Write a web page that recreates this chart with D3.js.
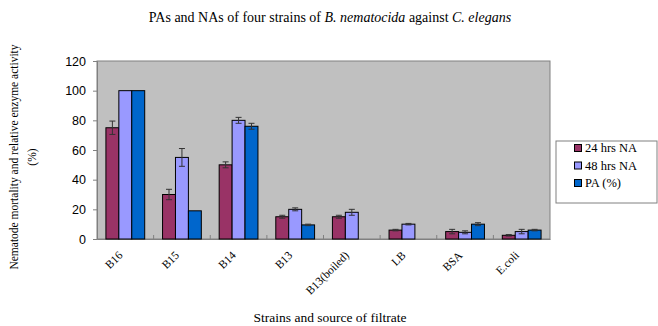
<!DOCTYPE html>
<html><head><meta charset="utf-8">
<script src="https://cdn.jsdelivr.net/npm/d3@7"></script>
<style>body{margin:0;background:#fff}svg{display:block}</style>
</head><body>
<svg id="c" width="658" height="326"></svg>
<script>
const categories = ["B16","B15","B14","B13","B13(boiled)","LB","BSA","E.coli"];
const seriesNames = ["24 hrs NA","48 hrs NA","PA (%)"];
const na24 = [75, 30, 50, 15, 15, 6, 5, 2.5];
const na48 = [100, 55, 80, 20, 18, 10, 4.5, 5];
const pa = [100, 19, 76, 9.5, 0, 0, 10, 6];
const err24 = [4.5, 3.5, 2, 1, 1, 0.5, 1.5, 0.5];
const err48 = [0, 6, 2, 1, 2, 0.5, 1, 1.5];
const errPA = [0, 0, 2, 0.5, 0, 0, 1, 0.5];
const yTicks = [0, 20, 40, 60, 80, 100, 120];
const colors = ["#993366", "#9999FF", "#0066CC"];

const svg = d3.select("#c");
const L = 97, R = 550, T = 61, B = 239;
const x = d3.scaleBand().domain(categories).range([L, R]).padding(0);
const x1 = d3.scaleBand().domain(seriesNames).range([0, x.bandwidth()]).paddingInner(0).paddingOuter(0.69);
const y = d3.scaleLinear().domain([0, 120]).range([B, T]);
const serif = "'Liberation Serif', 'Times New Roman', serif";

// title
const title = svg.append("text").attr("x", 330).attr("y", 22).attr("text-anchor", "middle")
  .style("font-family", serif).style("font-size", "14px").attr("fill", "#000");
title.append("tspan").text("PAs and NAs of four strains of ");
title.append("tspan").style("font-style", "italic").text("B. nematocida");
title.append("tspan").text(" against ");
title.append("tspan").style("font-style", "italic").text("C. elegans");

// plot area
svg.append("rect").attr("x", L).attr("y", T).attr("width", R - L).attr("height", B - T)
  .attr("fill", "#C0C0C0").attr("stroke", "#808080").attr("stroke-width", 1);

// y axis
const yAxis = d3.axisLeft(y).tickValues(yTicks).tickSize(4).tickPadding(7);
const yg = svg.append("g").attr("transform", `translate(${L},0)`).call(yAxis);
yg.select(".domain").attr("stroke", "#808080");
yg.selectAll(".tick line").attr("stroke", "#808080");
yg.selectAll(".tick text").style("font-family", "'Liberation Sans', Arial, sans-serif").style("font-size", "12.5px").attr("fill", "#000");

// x axis
const xAxis = d3.axisBottom(x).tickSize(0).tickFormat("");
const xg = svg.append("g").attr("transform", `translate(0,${B})`).call(xAxis);
xg.select(".domain").attr("stroke", "#808080");
svg.append("g").selectAll("line").data(categories.slice(1)).join("line")
  .attr("x1", d => x(d)).attr("x2", d => x(d)).attr("y1", B - 4).attr("y2", B)
  .attr("stroke", "#808080");

// bars
const data = categories.map((c, i) => ({
  cat: c,
  vals: [
    {s: seriesNames[0], v: na24[i], e: err24[i], col: colors[0]},
    {s: seriesNames[1], v: na48[i], e: err48[i], col: colors[1]},
    {s: seriesNames[2], v: pa[i], e: errPA[i], col: colors[2]}
  ]
}));
const g = svg.append("g").selectAll("g").data(data).join("g")
  .attr("transform", d => `translate(${x(d.cat)},0)`);
g.selectAll("rect").data(d => d.vals.filter(v => v.v > 0)).join("rect")
  .attr("x", d => x1(d.s)).attr("y", d => y(d.v))
  .attr("width", x1.bandwidth()).attr("height", d => B - y(d.v))
  .attr("fill", d => d.col).attr("stroke", "#000").attr("stroke-width", 1);
const eb = g.selectAll("g.err").data(d => d.vals.filter(v => v.v > 0 && v.e > 0)).join("g").attr("class", "err");
const cx = d => x1(d.s) + x1.bandwidth() / 2;
eb.append("line").attr("x1", cx).attr("x2", cx)
  .attr("y1", d => y(d.v + d.e)).attr("y2", d => y(d.v - d.e)).attr("stroke", "#333");
eb.append("line").attr("x1", d => cx(d) - 3).attr("x2", d => cx(d) + 3)
  .attr("y1", d => y(d.v + d.e)).attr("y2", d => y(d.v + d.e)).attr("stroke", "#333");
eb.append("line").attr("x1", d => cx(d) - 3).attr("x2", d => cx(d) + 3)
  .attr("y1", d => y(d.v - d.e)).attr("y2", d => y(d.v - d.e)).attr("stroke", "#333");

// x labels
svg.append("g").selectAll("text").data(categories).join("text")
  .attr("transform", d => `translate(${x(d) + x.bandwidth() / 2 - 2},${B + 17}) rotate(-45)`)
  .attr("text-anchor", "end")
  .style("font-family", serif).style("font-size", "11.5px").attr("fill", "#000")
  .text(d => d);

// x axis title
svg.append("text").attr("x", 330).attr("y", 322).attr("text-anchor", "middle")
  .style("font-family", serif).style("font-size", "13.5px").attr("fill", "#000")
  .text("Strains and source of filtrate");

// y axis title
svg.append("text").attr("transform", "translate(18,157) rotate(-90)").attr("text-anchor", "middle")
  .style("font-family", serif).style("font-size", "11.5px").attr("fill", "#000")
  .text("Nematode mortality and relative enzyme activity");
svg.append("text").attr("transform", "translate(36,157) rotate(-90)").attr("text-anchor", "middle")
  .style("font-family", serif).style("font-size", "11.5px").attr("fill", "#000")
  .text("(%)");

// legend
const lg = svg.append("g");
lg.append("rect").attr("x", 556).attr("y", 141).attr("width", 101).attr("height", 62)
  .attr("fill", "#fff").attr("stroke", "#808080");
const li = lg.selectAll("g").data(seriesNames).join("g")
  .attr("transform", (d, i) => `translate(578,${148 + i * 17.5})`);
li.append("rect").attr("x", -3.5).attr("y", -3.5).attr("width", 7).attr("height", 7)
  .attr("fill", (d, i) => colors[i]).attr("stroke", "#000");
li.append("text").attr("x", 7).attr("dy", "0.35em")
  .style("font-family", serif).style("font-size", "12.5px").attr("fill", "#000")
  .text(d => d);
</script>
</body></html>
